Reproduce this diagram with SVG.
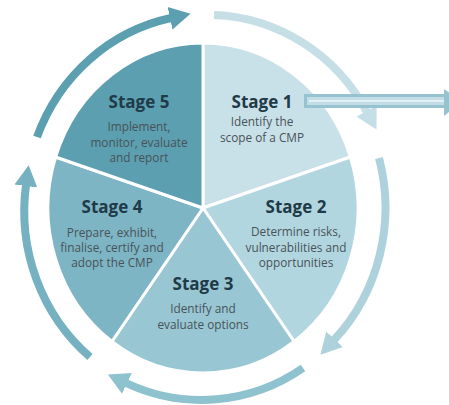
<svg xmlns="http://www.w3.org/2000/svg" width="449" height="405" viewBox="0 0 449 405">
<style>
.slice{stroke:#ffffff;stroke-width:3;stroke-linejoin:round}
.ring{fill:none;stroke-width:8;stroke-linecap:butt}
.title{font-family:"Open Sans","Liberation Sans",sans-serif;font-weight:bold;font-size:17px;fill:#1f3a48;text-anchor:middle}
.desc{font-family:"Open Sans","Liberation Sans",sans-serif;font-size:11.8px;fill:#485358;text-anchor:middle}
</style>
<defs>
<marker id="a1" markerUnits="userSpaceOnUse" markerWidth="26" markerHeight="26" viewBox="0 -13 26 26" refX="1" refY="0" orient="auto"><path d="M0,-11.5 L21,0 L0,11.5 Z" fill="#5b9fb1"/></marker>
<marker id="a2" markerUnits="userSpaceOnUse" markerWidth="26" markerHeight="26" viewBox="0 -13 26 26" refX="1" refY="0" orient="auto"><path d="M0,-11.5 L21,0 L0,11.5 Z" fill="#c6dfe6"/></marker>
<marker id="a3" markerUnits="userSpaceOnUse" markerWidth="26" markerHeight="26" viewBox="0 -13 26 26" refX="1" refY="0" orient="auto"><path d="M0,-11.5 L21,0 L0,11.5 Z" fill="#aed2db"/></marker>
<marker id="a4" markerUnits="userSpaceOnUse" markerWidth="26" markerHeight="26" viewBox="0 -13 26 26" refX="1" refY="0" orient="auto"><path d="M0,-11.5 L21,0 L0,11.5 Z" fill="#8fc2cf"/></marker>
<marker id="a5" markerUnits="userSpaceOnUse" markerWidth="26" markerHeight="26" viewBox="0 -13 26 26" refX="1" refY="0" orient="auto"><path d="M0,-11.5 L21,0 L0,11.5 Z" fill="#75b1c0"/></marker>
</defs>
<rect width="449" height="405" fill="#ffffff"/>
<g id="stage1">
<path class="slice" d="M203,208 L203,43 A155,165 0 0 1 350.4,157 Z" fill="#c8e1e8"/>
<text class="title" x="262" y="108">Stage 1</text>
<text class="desc" x="262" y="126">Identify the</text>
<text class="desc" x="262" y="142">scope of a CMP</text>
</g>
<g id="stage2">
<path class="slice" d="M203,208 L350.4,157 A155,165 0 0 1 294.1,341.5 Z" fill="#b2d6df"/>
<text class="title" x="296" y="213">Stage 2</text>
<text class="desc" x="296" y="236">Determine risks,</text>
<text class="desc" x="296" y="252">vulnerabilities and</text>
<text class="desc" x="296" y="267">opportunities</text>
</g>
<g id="stage3">
<path class="slice" d="M203,208 L294.1,341.5 A155,165 0 0 1 111.9,341.5 Z" fill="#98c7d3"/>
<text class="title" x="203" y="290">Stage 3</text>
<text class="desc" x="203" y="313">Identify and</text>
<text class="desc" x="203" y="329">evaluate options</text>
</g>
<g id="stage4">
<path class="slice" d="M203,208 L111.9,341.5 A155,165 0 0 1 55.6,157 Z" fill="#7db5c4"/>
<text class="title" x="112" y="213">Stage 4</text>
<text class="desc" x="112" y="237">Prepare, exhibit,</text>
<text class="desc" x="112" y="252">finalise, certify and</text>
<text class="desc" x="112" y="267">adopt the CMP</text>
</g>
<g id="stage5">
<path class="slice" d="M203,208 L55.6,157 A155,165 0 0 1 203,43 Z" fill="#5c9fb0"/>
<text class="title" x="139" y="108">Stage 5</text>
<text class="desc" x="139" y="131">Implement,</text>
<text class="desc" x="139" y="146.5">monitor, evaluate</text>
<text class="desc" x="139" y="162">and report</text>
</g>
<g id="connectors">
<path class="ring" d="M37,137 A183,190 0 0 1 171,18" stroke="#5b9fb1" marker-end="url(#a1)"/>
<path class="ring" d="M214,15 A183,190 0 0 1 367,112" stroke="#c6dfe6" marker-end="url(#a2)"/>
<path class="ring" d="M379,158 A183,190 0 0 1 334,340" stroke="#aed2db" marker-end="url(#a3)"/>
<path class="ring" d="M303,368 A183,190 0 0 1 126,383" stroke="#8fc2cf" marker-end="url(#a4)"/>
<path class="ring" d="M90,357 A183,190 0 0 1 26,185" stroke="#75b1c0" marker-end="url(#a5)"/>
<g id="scope-arrow">
<rect x="304" y="94" width="141" height="14" fill="#96c3cf"/>
<rect x="307" y="97" width="138" height="8" fill="#c2dde5"/>
<line x1="309" y1="101" x2="445" y2="101" stroke="#eef6f8" stroke-width="1.5"/>
<polygon points="444,89 444,116 462,102" fill="#96c3cf"/>
</g>
</g>
</svg>
